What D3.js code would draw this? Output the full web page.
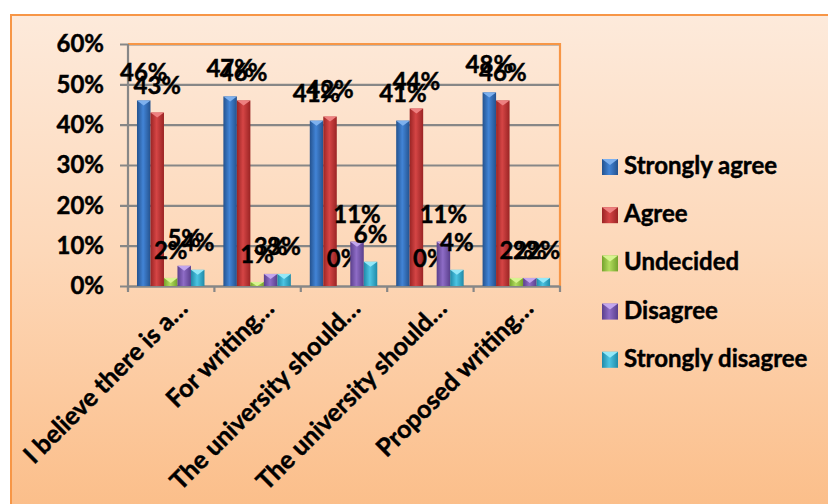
<!DOCTYPE html>
<html>
<head>
<meta charset="utf-8">
<script src="https://cdn.jsdelivr.net/npm/d3@7"></script>
<style>
  body { margin: 0; background: white; }
  text { font-family: Lato, "Open Sans", sans-serif; font-weight: bold; fill: #000; stroke: #000; stroke-width: 0.45px; }
</style>
</head>
<body>
<script>
// data
var categories = ["I believe there is a\u2026", "For writing\u2026", "The university should\u2026",
                  "The university should\u2026", "Proposed writing\u2026"];
var series = ["Strongly agree", "Agree", "Undecided", "Disagree", "Strongly disagree"];
var stronglyAgree    = [0.46, 0.47, 0.41, 0.41, 0.48];
var agree            = [0.43, 0.46, 0.42, 0.44, 0.46];
var undecided        = [0.02, 0.01, 0.00, 0.00, 0.02];
var disagree         = [0.05, 0.03, 0.11, 0.11, 0.02];
var stronglyDisagree = [0.04, 0.03, 0.06, 0.04, 0.02];
var yTicks = [0, 0.1, 0.2, 0.3, 0.4, 0.5, 0.6];

draw();

function draw(){
  var seriesValues = [stronglyAgree, agree, undecided, disagree, stronglyDisagree];

  // bar shading: dark edge, light middle, top facet
  var colours = [
    {dark: "#24528e", mid: "#4284d6", top: "#7db0ee"},
    {dark: "#9a2424", mid: "#d54545", top: "#ee8080"},
    {dark: "#74a22c", mid: "#b3dc5e", top: "#d8f490"},
    {dark: "#5a3f8c", mid: "#8e6cc6", top: "#c2a6ee"},
    {dark: "#1f8aa8", mid: "#4cc4e2", top: "#94e8f8"}
  ];
  var fontSize = 24;

  var W = 828, H = 504;
  var svg = d3.select("body").append("svg")
      .attr("width", W).attr("height", H);

  var defs = svg.append("defs");
  var bg = defs.append("linearGradient").attr("id", "bg")
      .attr("x1", 0).attr("y1", 0).attr("x2", 0).attr("y2", 1);
  bg.append("stop").attr("offset", "0%").attr("stop-color", "#fdeadb");
  bg.append("stop").attr("offset", "45%").attr("stop-color", "#fdd8b9");
  bg.append("stop").attr("offset", "100%").attr("stop-color", "#fbbb84");

  colours.forEach(function(c, i) {
    var g = defs.append("linearGradient").attr("id", "bar" + i)
        .attr("x1", 0).attr("y1", 0).attr("x2", 1).attr("y2", 0);
    g.append("stop").attr("offset", "0%").attr("stop-color", c.dark);
    g.append("stop").attr("offset", "45%").attr("stop-color", c.mid);
    g.append("stop").attr("offset", "100%").attr("stop-color", c.dark);
  });

  // chart area
  svg.append("rect")
      .attr("x", 11).attr("y", 15).attr("width", W + 20).attr("height", H + 20)
      .attr("fill", "url(#bg)")
      .attr("stroke", "#f79646").attr("stroke-width", 2);

  var pLeft = 128, pRight = 560, pTop = 44, pBottom = 286;

  var x0 = d3.scaleBand().domain(d3.range(categories.length)).range([pLeft, pRight]);
  var bw = x0.bandwidth();
  var x1 = d3.scaleBand().domain(d3.range(series.length)).range([bw * 0.104, bw * 0.885]);
  var y = d3.scaleLinear().domain([0, 0.6]).range([pBottom, pTop]);

  // gridlines + y axis
  var yAxis = d3.axisLeft(y).tickValues(yTicks)
      .tickFormat(d3.format(".0%"))
      .tickSize(-(pRight - pLeft)).tickPadding(24);
  var ga = svg.append("g").attr("transform", "translate(" + pLeft + ",0)").call(yAxis);
  ga.select(".domain").remove();
  ga.selectAll(".tick line")
      .attr("x1", -8)
      .attr("stroke", "#878787").attr("stroke-width", 2.2);
  ga.selectAll(".tick text")
      .attr("font-size", fontSize).attr("font-family", "Lato").attr("font-weight", "bold").attr("fill", "#000");

  // plot area border (orange top and right)
  svg.append("path")
      .attr("d", "M" + pLeft + "," + pTop + "H" + pRight + "V" + pBottom)
      .attr("fill", "none").attr("stroke", "#f79646").attr("stroke-width", 2.2);

  // left axis line
  svg.append("line")
      .attr("x1", pLeft).attr("x2", pLeft).attr("y1", pTop).attr("y2", pBottom + 4)
      .attr("stroke", "#878787").attr("stroke-width", 2.2);

  // bottom axis with ticks at category boundaries
  var xAxis = d3.axisBottom(x0).tickFormat("").tickSize(0);
  var gx = svg.append("g").attr("transform", "translate(0," + pBottom + ")").call(xAxis);
  gx.select(".domain").attr("stroke", "#878787").attr("stroke-width", 2.2);
  gx.selectAll(".tick").remove();
  svg.append("g").selectAll("line")
      .data(d3.range(categories.length + 1))
      .enter().append("line")
      .attr("x1", function(i) { return pLeft + i * bw; })
      .attr("x2", function(i) { return pLeft + i * bw; })
      .attr("y1", pBottom).attr("y2", pBottom + 6)
      .attr("stroke", "#878787").attr("stroke-width", 2.2);

  // bars
  var groups = svg.append("g").selectAll("g")
      .data(categories)
      .enter().append("g")
      .attr("transform", function(d, i) { return "translate(" + x0(i) + ",0)"; });

  var cells = groups.selectAll("g")
      .data(function(d, ci) {
        return seriesValues.map(function(vals, si) { return {si: si, v: vals[ci]}; });
      })
      .enter().append("g");

  cells.append("rect")
      .attr("x", function(d) { return x1(d.si); })
      .attr("y", function(d) { return y(d.v); })
      .attr("width", x1.bandwidth())
      .attr("height", function(d) { return pBottom - y(d.v); })
      .attr("fill", function(d) { return "url(#bar" + d.si + ")"; });

  // little top facet on each bar
  cells.filter(function(d) { return d.v > 0; }).append("path")
      .attr("d", function(d) {
        var a = x1(d.si), b = a + x1.bandwidth(), t = y(d.v), h = Math.min(5, pBottom - t);
        return "M" + a + "," + t + "L" + b + "," + t + "L" + (a + b) / 2 + "," + (t + h) + "Z";
      })
      .attr("fill", function(d) { return colours[d.si].top; });

  // data labels
  cells.append("text")
      .attr("x", function(d) { return x1(d.si) + x1.bandwidth() / 2; })
      .attr("y", function(d) { return y(d.v) - 19; })
      .attr("text-anchor", "middle")
      .attr("font-size", fontSize)
      .text(function(d) { return d3.format(".0%")(d.v); });

  // category labels, rotated
  svg.append("g").selectAll("text")
      .data(categories)
      .enter().append("text")
      .attr("transform", function(d, i) {
        return "translate(" + (x0(i) + bw / 2 + 18) + ",310) rotate(-45)";
      })
      .attr("text-anchor", "end")
      .attr("font-size", 25)
      .text(function(d) { return d; });

  // legend
  var legend = svg.append("g").selectAll("g")
      .data(series)
      .enter().append("g")
      .attr("transform", function(d, i) { return "translate(602," + (174 + i * 48.2) + ")"; });
  legend.append("rect")
      .attr("x", 0).attr("y", -15).attr("width", 16).attr("height", 16)
      .attr("fill", function(d, i) { return "url(#bar" + i + ")"; });
  legend.append("path")
      .attr("d", "M0,-15L16,-15L8,-9Z")
      .attr("fill", function(d, i) { return colours[i].top; });
  legend.append("text")
      .attr("x", 22).attr("y", 0)
      .attr("font-size", fontSize)
      .text(function(d) { return d; });
}
</script>
</body>
</html>
